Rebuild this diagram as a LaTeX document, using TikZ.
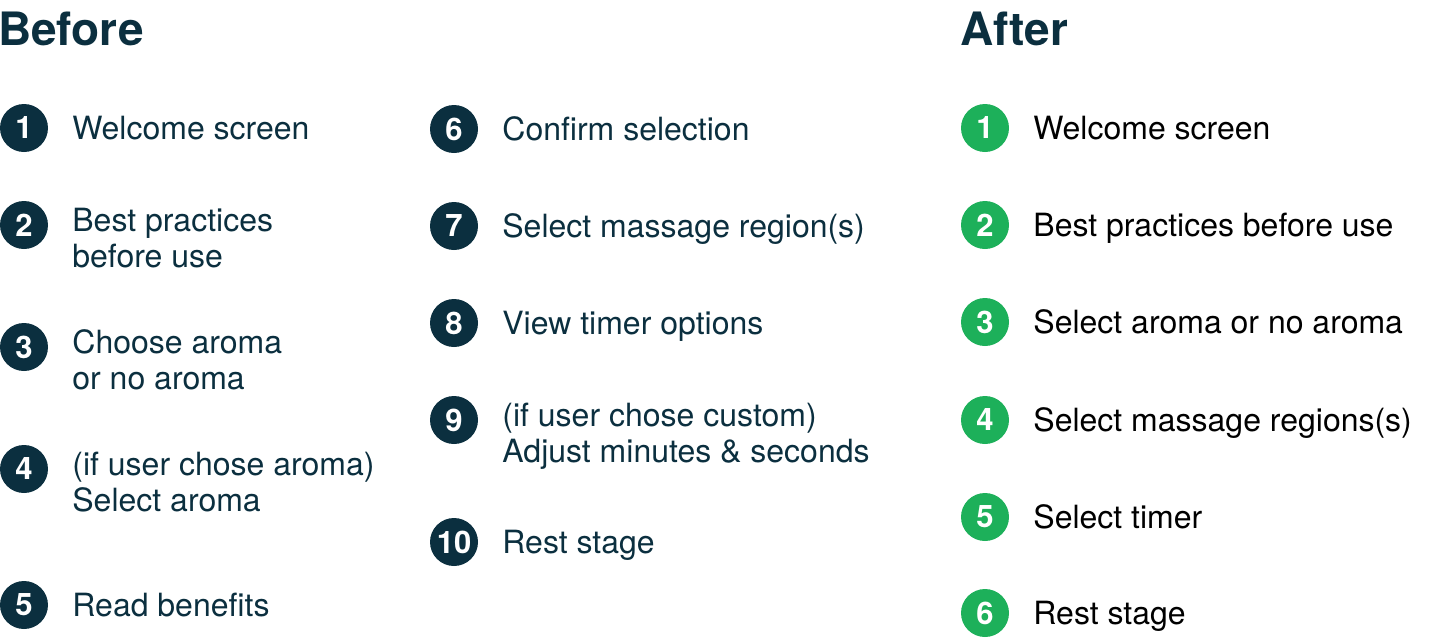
\documentclass[tikz,border=0pt]{standalone}
\usepackage{fontspec}
\setmainfont{TeX Gyre Heros}
\usetikzlibrary{positioning}
\definecolor{navy}{HTML}{0B2F3F}
\definecolor{mint}{HTML}{1DB05A}

\begin{document}
\begin{tikzpicture}[x=1pt,y=-1pt,node distance=24pt]
      \tikzstyle{oldstep}=[circle,fill=navy,minimum size=48pt,inner sep=0pt,text=white,font=\fontsize{31}{31}\selectfont\bfseries]
      \tikzstyle{newstep}=[oldstep,fill=mint]
      \tikzstyle{item}=[inner sep=0pt,anchor=base west,yshift=-11.5pt,align=left,text=navy,font=\fontsize{32}{36}\selectfont]
      \tikzstyle{pair}=[item,yshift=-31pt]
      \tikzstyle{newitem}=[item,text=black]
      \tikzstyle{heading}=[inner sep=0pt,anchor=base west,text=navy,font=\fontsize{46}{46}\selectfont\bfseries]
      \useasboundingbox (0,0) rectangle (1444,641);

      \node [heading] (before) at (-2,45) {Before};
      \node [heading] (after) at (960,45) {After};

      % before, first column
      \node [oldstep] (B1) at (24,128) {1};
      \node [oldstep] (B2) at (24,225) {2};
      \node [oldstep] (B3) at (24,347) {3};
      \node [oldstep] (B4) at (24,469) {4};
      \node [oldstep] (B5) at (24,605) {5};
      \node (T1) [right=of B1,item] {Welcome screen};
      \node (T2) [right=of B2,pair] {Best practices\\before use};
      \node (T3) [right=of B3,pair] {Choose aroma\\or no aroma};
      \node (T4) [right=of B4,pair] {(if user chose aroma)\\Select aroma};
      \node (T5) [right=of B5,item] {Read benefits};

      % before, second column
      \node [oldstep] (B6) at (454,129) {6};
      \node [oldstep] (B7) at (454,226) {7};
      \node [oldstep] (B8) at (454,323) {8};
      \node [oldstep] (B9) at (454,420) {9};
      \node [oldstep] (B10) at (454,542) {10};
      \node (T6) [right=of B6,item] {Confirm selection};
      \node (T7) [right=of B7,item] {Select massage region(s)};
      \node (T8) [right=of B8,item] {View timer options};
      \node (T9) [right=of B9,pair] {(if user chose custom)\\Adjust minutes \& seconds};
      \node (T10) [right=of B10,item] {Rest stage};

      % after
      \node [newstep] (A1) at (985,128) {1};
      \node [newstep] (A2) at (985,225) {2};
      \node [newstep] (A3) at (985,322) {3};
      \node [newstep] (A4) at (985,420) {4};
      \node [newstep] (A5) at (985,517) {5};
      \node [newstep] (A6) at (985,613) {6};
      \node (N1) [right=of A1,newitem] {Welcome screen};
      \node (N2) [right=of A2,newitem] {Best practices before use};
      \node (N3) [right=of A3,newitem] {Select aroma or no aroma};
      \node (N4) [right=of A4,newitem] {Select massage regions(s)};
      \node (N5) [right=of A5,newitem] {Select timer};
      \node (N6) [right=of A6,newitem] {Rest stage};
    \end{tikzpicture}
\end{document}
